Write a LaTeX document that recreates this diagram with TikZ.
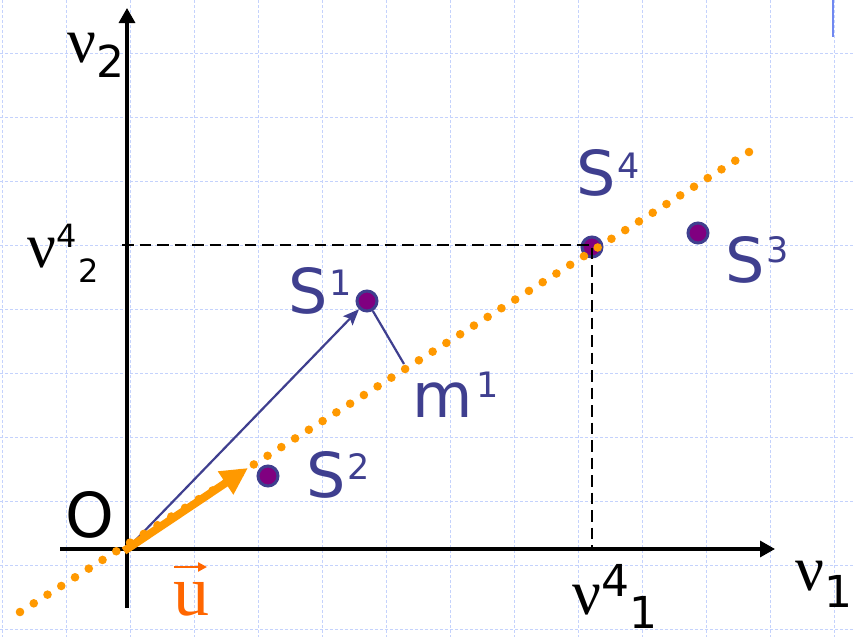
\documentclass[tikz,border=0pt]{standalone}
\usepackage{fontspec}
\setmainfont{DejaVu Sans}
\newfontfamily\nufont{Liberation Serif}
\usetikzlibrary{arrows.meta}
\definecolor{gridc}{RGB}{196,210,252}
\definecolor{lblue}{RGB}{63,63,143}
\definecolor{ptfill}{RGB}{128,0,128}
\definecolor{orng}{RGB}{255,153,0}
\definecolor{ured}{RGB}{255,102,0}
\definecolor{barblue}{RGB}{112,136,240}
\newcommand\bigf{\fontsize{62}{62}\selectfont}
\newcommand\supf{\fontsize{35}{35}\selectfont}
\newcommand\nuchar{{\nufont\fontsize{64}{64}\selectfont ν}}
\newcommand\digA{\fontsize{44}{44}\selectfont}
\newcommand\digB{\fontsize{32}{32}\selectfont}
\begin{document}
\begin{tikzpicture}[x=1pt,y=-1pt,
  gridline/.style={gridc, line width=1pt, dash pattern=on 3pt off 2pt},
  axis/.style={line width=3.2pt, -{Triangle[length=15pt,width=16pt]}},
  ptnode/.style={circle, draw=lblue, fill=ptfill, line width=3pt, minimum size=20pt, inner sep=0},
  lab/.style={anchor=base west, inner sep=0, text=lblue, font=\bigf},
  blk/.style={anchor=base west, inner sep=0},
  guide/.style={line width=2.8pt, dash pattern=on 11.5pt off 6pt}]
\useasboundingbox (0,0) rectangle (854,637);
\fill[white] (0,0) rectangle (854,637);
% grid
\foreach \x in {2,66,...,834} \draw[gridline] (\x,0) -- (\x,637);
\foreach \y in {53,117,...,629} \draw[gridline] (0,\y) -- (854,\y);
\coordinate (bt) at (833,0); \coordinate (bb) at (833,37);
\draw[barblue, line width=2pt] (bt) -- (bb);
% axes
\coordinate (O) at (127,549);
\coordinate (yb) at (127,608); \coordinate (yt) at (127,8);
\coordinate (xl) at (60,549); \coordinate (xr) at (775,549);
\draw[axis] (yb) -- (yt);
\draw[axis] (xl) -- (xr);
% points
\node[ptnode] (S1) at (367,301) {};
\node[ptnode] (S2) at (268,476) {};
\node[ptnode] (S3) at (698,233) {};
\node[ptnode] (S4) at (592,247) {};
% guides
\coordinate (g1) at (122,245); \coordinate (g2) at (592,549);
\draw[guide] (g1) -| (g2);
% vectors
\coordinate (m1) at (404,364);
\draw[lblue, line width=2.2pt, -{Stealth[length=16pt,width=13pt,inset=3pt]}] (O) -- (S1);
\draw[lblue, line width=2.2pt] (m1) -- (S1);
% dotted line
\foreach \i in {0,...,53} \fill[orng] ({20+\i*13.7547},{612-\i*8.6792}) circle (4.3pt);
\coordinate (utip) at (248,468);
\coordinate (ust) at (124,551);
\draw[orng, line width=8pt, -{Triangle[length=27pt,width=26pt]}] (ust) -- (utip);
% labels
\node[lab] (lS1) at (288,313) {S\kern2pt\raisebox{18pt}{\supf 1}};
\node[lab] (lS2) at (306,497) {S\kern2pt\raisebox{18pt}{\supf 2}};
\node[lab] (lS3) at (725,282) {S\kern2pt\raisebox{20pt}{\supf 3}};
\node[lab] (lS4) at (576,195) {S\kern2pt\raisebox{17pt}{\supf 4}};
\node[lab] (lm1) at (412,417) {m\kern4pt\raisebox{20pt}{\supf 1}};
\node[blk, font=\bigf] (lO) at (65,537) {O};
\node[blk] (lv2) at (67,62) {\nuchar\raisebox{-15pt}{\digA 2}};
\node[blk] (lv42) at (27,267) {\nuchar\raisebox{20pt}{\digB 4}\kern2pt\raisebox{-15pt}{\digB 2}};
\node[blk] (lv41) at (572,614) {\nuchar\raisebox{18pt}{\digA 4}\raisebox{-14pt}{\digA 1}};
\node[blk] (lv1) at (795,590) {\nuchar\raisebox{-17pt}{\digA 1}};
\node[blk, text=ured] (lu) at (173,615) {\nufont\fontsize{72}{72}\selectfont u};
\coordinate (ua) at (174,567); \coordinate (ub) at (207,567);
\draw[ured, line width=2.5pt, -{Triangle[length=9pt,width=9pt]}] (ua) -- (ub);
\end{tikzpicture}
\end{document}
